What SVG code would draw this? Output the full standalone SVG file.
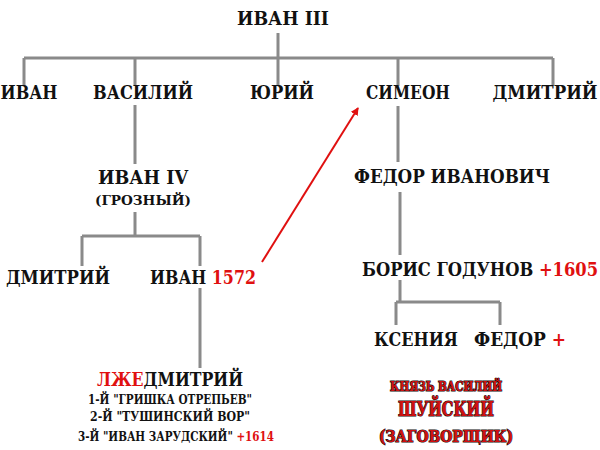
<svg xmlns="http://www.w3.org/2000/svg" width="600" height="450" viewBox="0 0 600 450">
<style>
text{font-family:"DejaVu Serif Condensed","Liberation Serif",serif;font-weight:bold;text-anchor:middle;fill:#111}
.n{font-size:19px}
.s{font-size:13px}
.r{fill:#e01010}
.k{fill:#d01010;stroke:#111;stroke-width:1.2;paint-order:stroke}
.l{stroke:#8a8a8a;stroke-width:3;fill:none}
</style>
<defs><marker id="ah" markerWidth="8" markerHeight="8" refX="7" refY="4" orient="auto" markerUnits="userSpaceOnUse" viewBox="0 0 8 8"><path d="M0,0L8,4L0,8z" fill="#e01010"/></marker></defs>
<g id="connectors">
<path class="l" d="M278,33V58M24,58H553M24,58V86M135,58V86M278,58V86M398,58V86M553,58V86"/>
<path class="l" d="M135,105V164M135,212V236M82,236H200M82,236V266M200,236V266M200,288V368"/>
<path class="l" d="M398,106V162M400,192V255M400,280V302M396,302H500M396,302V325M500,302V325"/>
<line x1="262" y1="262" x2="358" y2="108" stroke="#e01010" stroke-width="2" marker-end="url(#ah)"/>
</g>
<g id="ivan3"><text class="n" x="283" y="25" textLength="92" lengthAdjust="spacingAndGlyphs">ИВАН III</text></g>
<g id="ivan"><text class="n" x="29" y="99" textLength="57" lengthAdjust="spacingAndGlyphs">ИВАН</text></g>
<g id="vasily"><text class="n" x="143" y="99" textLength="100" lengthAdjust="spacingAndGlyphs">ВАСИЛИЙ</text></g>
<g id="yury"><text class="n" x="282" y="99" textLength="64" lengthAdjust="spacingAndGlyphs">ЮРИЙ</text></g>
<g id="simeon"><text class="n" x="408" y="99" textLength="84" lengthAdjust="spacingAndGlyphs">СИМЕОН</text></g>
<g id="dmitry1"><text class="n" x="545" y="99" textLength="105" lengthAdjust="spacingAndGlyphs">ДМИТРИЙ</text></g>
<g id="ivan4"><text class="n" x="143" y="184" textLength="90" lengthAdjust="spacingAndGlyphs">ИВАН IV</text><text class="s" x="143" y="205" textLength="96" lengthAdjust="spacingAndGlyphs">(ГРОЗНЫЙ)</text></g>
<g id="fedor-ivanovich"><text class="n" x="452" y="183" textLength="196" lengthAdjust="spacingAndGlyphs">ФЕДОР ИВАНОВИЧ</text></g>
<g id="dmitry2"><text class="n" x="58" y="284" textLength="104" lengthAdjust="spacingAndGlyphs">ДМИТРИЙ</text></g>
<g id="ivan1572"><text class="n" x="203" y="284" textLength="106" lengthAdjust="spacingAndGlyphs">ИВАН <tspan class="r">1572</tspan></text></g>
<g id="boris"><text class="n" x="480" y="276" textLength="236" lengthAdjust="spacingAndGlyphs">БОРИС ГОДУНОВ <tspan class="r">+1605</tspan></text></g>
<g id="ksenia"><text class="n" x="416" y="346" textLength="84" lengthAdjust="spacingAndGlyphs">КСЕНИЯ</text></g>
<g id="fedor"><text class="n" x="520" y="346" textLength="92" lengthAdjust="spacingAndGlyphs">ФЕДОР <tspan class="r">+</tspan></text></g>
<g id="lzhedmitry">
<text class="n" x="170" y="386" textLength="146" lengthAdjust="spacingAndGlyphs"><tspan class="r">ЛЖЕ</tspan>ДМИТРИЙ</text>
<text class="s" x="170" y="404" textLength="164" lengthAdjust="spacingAndGlyphs">1-Й "ГРИШКА ОТРЕПЬЕВ"</text>
<text class="s" x="170" y="421" textLength="160" lengthAdjust="spacingAndGlyphs">2-Й "ТУШИНСКИЙ ВОР"</text>
<text class="s" x="176" y="441" textLength="196" lengthAdjust="spacingAndGlyphs">3-Й "ИВАН ЗАРУДСКИЙ" <tspan class="r">+1614</tspan></text>
</g>
<g id="shuisky">
<text class="k" x="446" y="391" style="font-size:12px" textLength="112" lengthAdjust="spacingAndGlyphs">КНЯЗЬ ВАСИЛИЙ</text>
<text class="k" x="446" y="416" style="font-size:20px" textLength="96" lengthAdjust="spacingAndGlyphs">ШУЙСКИЙ</text>
<text class="k" x="446" y="442" style="font-size:16px" textLength="134" lengthAdjust="spacingAndGlyphs">(ЗАГОВОРЩИК)</text>
</g>
</svg>
